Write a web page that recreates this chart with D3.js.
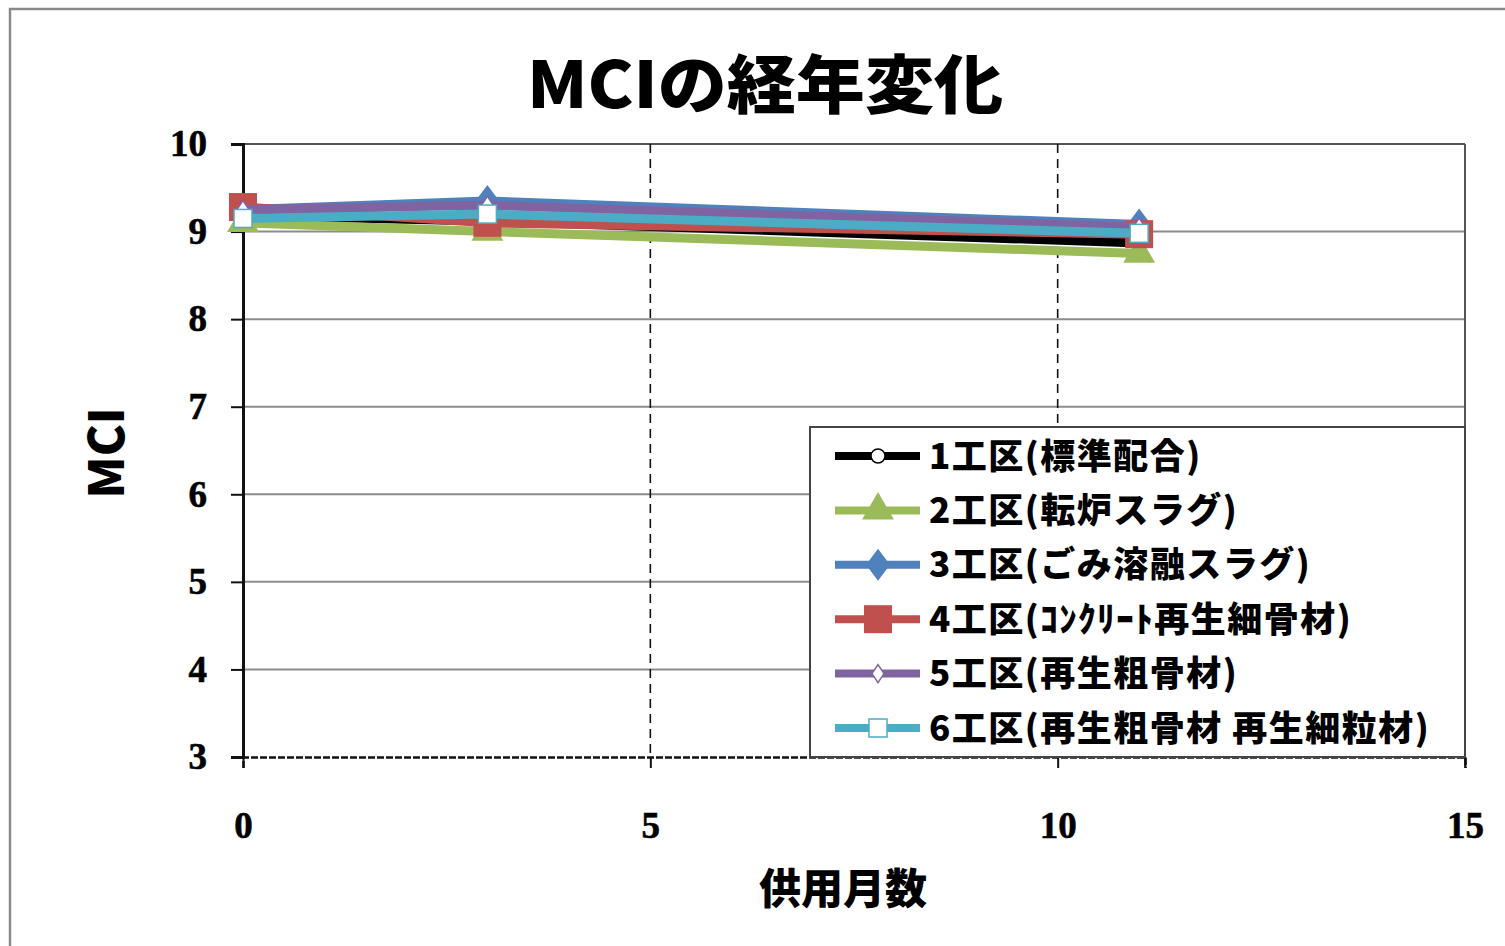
<!DOCTYPE html>
<html lang="ja">
<head>
<meta charset="utf-8">
<script src="https://cdn.jsdelivr.net/npm/d3@7"></script>
<style>
  html, body { margin: 0; padding: 0; background: #ffffff; }
  svg { display: block; }
</style>
</head>
<body>
<svg id="chart" width="1505" height="946"></svg>
<script>
// ---- data ----
const months = [0, 3, 11];
const seriesNames = [
  "1工区(標準配合)",
  "2工区(転炉スラグ)",
  "3工区(ごみ溶融スラグ)",
  "4工区(ｺﾝｸﾘｰﾄ再生細骨材)",
  "5工区(再生粗骨材)",
  "6工区(再生粗骨材 再生細粒材)"
];
const mci1 = [9.18, 9.12, 8.87];
const mci2 = [9.10, 9.00, 8.75];
const mci3 = [9.25, 9.35, 9.08];
const mci4 = [9.28, 9.10, 8.97];
const mci5 = [9.25, 9.30, 9.05];
const mci6 = [9.15, 9.20, 8.98];
const seriesValues = [mci1, mci2, mci3, mci4, mci5, mci6];
const xTicks = [0, 5, 10, 15];
const yTicks = [3, 4, 5, 6, 7, 8, 9, 10];
const titleText = "MCIの経年変化";
const xLabel = "供用月数";
const yLabel = "MCI";

// ---- styles ----
const colors = ["#000000", "#9BBB59", "#4F81BD", "#C0504D", "#8064A2", "#4BACC6"];
const markerKinds = ["circleOpen", "triangle", "diamond", "square", "diamondOpen", "squareOpen"];
const gothic = "'Noto Sans CJK JP', 'Noto Sans', sans-serif";
const serif = "'Liberation Serif', 'DejaVu Serif', serif";

const svg = d3.select("#chart");

// outer chart frame
svg.append("rect")
  .attr("x", 10).attr("y", 9).attr("width", 1600).attr("height", 1000)
  .attr("fill", "#ffffff").attr("stroke", "#8a8a8a").attr("stroke-width", 2.5);

const plot = { left: 243, top: 144, right: 1465, bottom: 757 };
const x = d3.scaleLinear().domain([0, 15]).range([plot.left, plot.right]);
const y = d3.scaleLinear().domain([3, 10]).range([plot.bottom, plot.top]);

// horizontal gridlines
svg.append("g").selectAll("line").data(yTicks.filter(v => v > 3))
  .join("line")
  .attr("x1", plot.left).attr("x2", plot.right)
  .attr("y1", d => y(d)).attr("y2", d => y(d))
  .attr("stroke", d => d === 10 ? "#555555" : "#8c8c8c")
  .attr("stroke-width", 2);

// vertical dashed gridlines
svg.append("g").selectAll("line").data(xTicks.filter(v => v > 0 && v < 15))
  .join("line")
  .attr("x1", d => x(d)).attr("x2", d => x(d))
  .attr("y1", plot.top).attr("y2", plot.bottom)
  .attr("stroke", "#111111").attr("stroke-width", 1.6)
  .attr("stroke-dasharray", "9,6");

// right border of plot area
svg.append("line")
  .attr("x1", x(15)).attr("x2", x(15))
  .attr("y1", plot.top).attr("y2", plot.bottom + 10)
  .attr("stroke", "#555555").attr("stroke-width", 2);

// y axis
const yAxis = d3.axisLeft(y).tickValues(yTicks).tickSize(12).tickPadding(24)
  .tickFormat(d3.format("d"));
const gy = svg.append("g").attr("transform", `translate(${plot.left},0)`).call(yAxis);
gy.select(".domain").attr("stroke", "#111").attr("stroke-width", 3);
gy.selectAll(".tick line").attr("stroke", "#111").attr("stroke-width", 2);
gy.selectAll(".tick text")
  .attr("font-family", serif).attr("font-weight", "bold")
  .attr("font-size", 37).attr("fill", "#000")
  .attr("stroke", "#000").attr("stroke-width", 0.6);

// x axis
const xAxis = d3.axisBottom(x).tickValues(xTicks).tickSize(11).tickPadding(44)
  .tickFormat(d3.format("d"));
const gx = svg.append("g").attr("transform", `translate(0,${plot.bottom})`).call(xAxis);
gx.select(".domain").attr("stroke", "#111").attr("stroke-width", 2.5)
  .attr("stroke-dasharray", "7,2");
gx.selectAll(".tick line").attr("stroke", "#111").attr("stroke-width", 2);
gx.selectAll(".tick text")
  .attr("font-family", serif).attr("font-weight", "bold")
  .attr("font-size", 37).attr("fill", "#000")
  .attr("stroke", "#000").attr("stroke-width", 0.6);

// marker drawing helper
function drawMarker(sel, kind, color, cx, cy) {
  const g = sel.append("g").attr("transform", `translate(${cx},${cy})`);
  if (kind === "circleOpen") {
    g.append("circle").attr("r", 7).attr("fill", "#fff").attr("stroke", color).attr("stroke-width", 1.5);
  } else if (kind === "triangle") {
    g.append("path").attr("d", d3.symbol(d3.symbolTriangle, 440)()).attr("fill", color);
  } else if (kind === "diamond") {
    g.append("path").attr("d", "M0,-16L12,0L0,16L-12,0Z").attr("fill", color);
  } else if (kind === "square") {
    g.append("rect").attr("x", -14).attr("y", -14).attr("width", 28).attr("height", 28).attr("fill", color);
  } else if (kind === "diamondOpen") {
    g.append("path").attr("d", "M0,-9L6,0L0,9L-6,0Z").attr("fill", "#fff").attr("stroke", color).attr("stroke-width", 1.5);
  } else if (kind === "squareOpen") {
    g.append("rect").attr("x", -9).attr("y", -9).attr("width", 18).attr("height", 18)
      .attr("fill", "#fff").attr("stroke", color).attr("stroke-width", 1.5);
  }
}

// series lines and markers
const line = d3.line().x(d => x(d[0])).y(d => y(d[1]));
const gs = svg.append("g");
seriesValues.forEach((vals, i) => {
  const pts = months.map((m, j) => [m, vals[j]]);
  gs.append("path").datum(pts).attr("d", line)
    .attr("fill", "none").attr("stroke", colors[i]).attr("stroke-width", 9)
    .attr("stroke-linejoin", "round");
  pts.forEach(p => drawMarker(gs, markerKinds[i], colors[i], x(p[0]), y(p[1])));
});

// legend
const lg = svg.append("g");
lg.append("rect")
  .attr("x", 810).attr("y", 427).attr("width", 655).attr("height", 330)
  .attr("fill", "#ffffff").attr("stroke", "#444444").attr("stroke-width", 2);
seriesNames.forEach((name, i) => {
  const cy = 456 + i * 54.4;
  lg.append("line").attr("x1", 835).attr("x2", 920).attr("y1", cy).attr("y2", cy)
    .attr("stroke", colors[i]).attr("stroke-width", 8);
  drawMarker(lg, markerKinds[i], colors[i], 878, cy);
  lg.append("text").attr("x", 929).attr("y", cy).attr("dy", "0.36em")
    .attr("font-family", gothic).attr("font-weight", 900)
    .attr("font-size", 35).attr("letter-spacing", 1.5)
    .attr("fill", "#000").text(name);
});

// titles
svg.append("text").attr("x", 765).attr("y", 108).attr("text-anchor", "middle")
  .attr("font-family", gothic).attr("font-weight", 900).attr("font-size", 64)
  .attr("textLength", 476).attr("lengthAdjust", "spacingAndGlyphs")
  .attr("fill", "#000").text(titleText);
svg.append("text").attr("x", 843).attr("y", 904).attr("text-anchor", "middle")
  .attr("font-family", gothic).attr("font-weight", 900).attr("font-size", 42)
  .attr("fill", "#000").text(xLabel);
svg.append("text").attr("transform", "translate(124,453) rotate(-90)")
  .attr("text-anchor", "middle")
  .attr("font-family", gothic).attr("font-weight", 900).attr("font-size", 48)
  .attr("fill", "#000").text(yLabel);
</script>
</body>
</html>
